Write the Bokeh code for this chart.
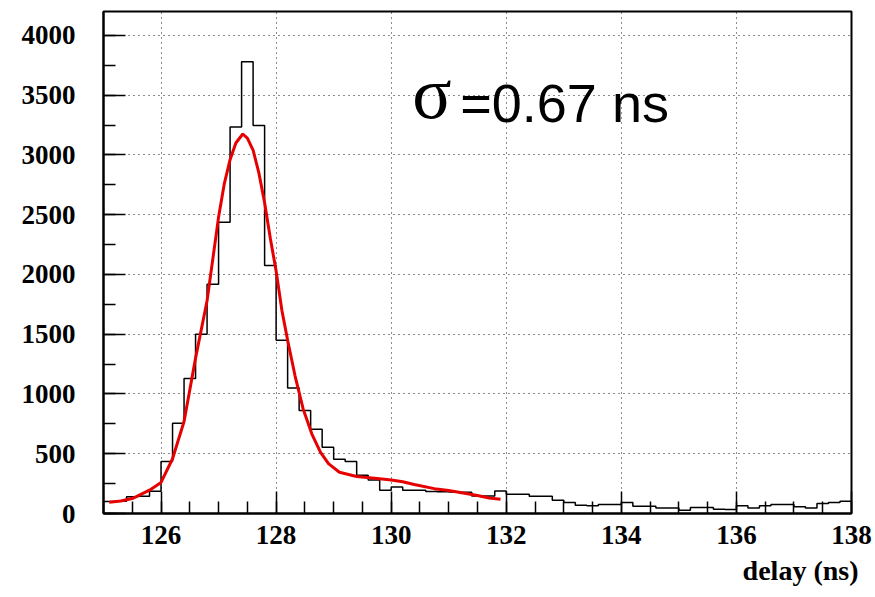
from bokeh.plotting import figure
from bokeh.models import Range1d, SingleIntervalTicker, Label, Title
from bokeh.embed import file_html
from bokeh.resources import INLINE

# ---- data ----
bin_lo = 125.0
bin_width = 0.2
counts = [100, 102, 140, 145, 186,
          436, 756, 1130, 1500, 1917,
          2436, 3233, 3780, 3247, 2075,
          1450, 1050, 861, 705, 555,
          453, 436, 320, 280, 195,
          222, 194, 194, 185, 182,
          180, 178, 147, 147, 189,
          161, 161, 144, 144, 111,
          92, 70, 64, 75, 75,
          92, 61, 61, 47, 47,
          28, 50, 50, 35, 33,
          64, 47, 64, 75, 75,
          56, 47, 83, 92, 103]

fit_t = [125.10, 125.30, 125.50, 125.80, 126.00, 126.20, 126.40, 126.60, 126.80,
         127.00, 127.10, 127.20, 127.30, 127.42, 127.50, 127.60, 127.70, 127.80,
         127.90, 128.00, 128.10, 128.20, 128.33, 128.47, 128.62, 128.77, 128.91,
         129.10, 129.40, 129.80, 130.00, 130.20, 130.40, 130.75, 131.00, 131.30,
         131.50, 131.70, 131.90]
fit_v = [95, 105, 125, 195, 260, 458, 770, 1300, 1780,
         2480, 2760, 2960, 3100, 3175, 3140, 3040, 2850, 2600,
         2300, 2030, 1700, 1450, 1150, 875, 667, 514, 417,
         345, 310, 290, 280, 265, 242, 208, 192, 167,
         150, 130, 120]

x_ticks_interval = 2
y_ticks_interval = 500
sigma_text = "σ"
value_text = "=0.67 ns"
x_label = "delay (ns)"

edges = [round(bin_lo + i * bin_width, 4) for i in range(len(counts) + 1)]
step_y = counts + [counts[-1]]

p = figure(width=875, height=597, output_backend="svg", toolbar_location=None,
           x_range=Range1d(125, 138), y_range=Range1d(0, 4200),
           min_border_left=103, min_border_right=24, min_border_top=11,
           min_border_bottom=84)

p.background_fill_color = "white"
p.border_fill_color = "white"
p.outline_line_color = "black"
p.outline_line_width = 2

p.step(edges, step_y, mode="after", line_color="black", line_width=1.5)
p.line(fit_t, fit_v, line_color="#e60000", line_width=3)

for ax, tk in ((p.xaxis[0], SingleIntervalTicker(interval=x_ticks_interval, num_minor_ticks=4)),
               (p.yaxis[0], SingleIntervalTicker(interval=y_ticks_interval, num_minor_ticks=2))):
    ax.ticker = tk
    ax.axis_line_color = "black"
    ax.axis_line_width = 2
    ax.major_tick_in = 22
    ax.major_tick_out = 0
    ax.minor_tick_in = 12
    ax.minor_tick_out = 0
    ax.major_tick_line_width = 1.5
    ax.minor_tick_line_width = 1.5
    ax.major_tick_line_color = "black"
    ax.minor_tick_line_color = "black"
    ax.major_label_text_font = "Liberation Serif"
    ax.major_label_text_font_style = "bold"
    ax.major_label_text_font_size = "27px"
    ax.major_label_text_color = "black"

p.yaxis[0].major_label_standoff = 28
p.xaxis[0].major_label_standoff = 12

p.xgrid[0].ticker = p.xaxis[0].ticker
p.ygrid[0].ticker = p.yaxis[0].ticker
for g in (p.xgrid[0], p.ygrid[0]):
    g.grid_line_color = "black"
    g.grid_line_width = 1
    g.grid_line_dash = "1 4"
    g.grid_line_alpha = 0.9

p.add_layout(Label(x=130.71, y=3512, text=sigma_text, text_font="Liberation Serif",
                   text_font_size="73px", text_color="black",
                   text_baseline="alphabetic", text_align="center"))
p.add_layout(Label(x=131.20, y=3431, text=value_text, text_font="Liberation Sans",
                   text_font_size="54px", text_color="black",
                   text_baseline="alphabetic", text_align="left"))

p.add_layout(Title(text=x_label, align="right", offset=-7, standoff=12,
                   text_font="Liberation Serif", text_font_style="bold",
                   text_font_size="28px", text_color="black"), "below")

open("out.html", "w").write(file_html(p, INLINE))
